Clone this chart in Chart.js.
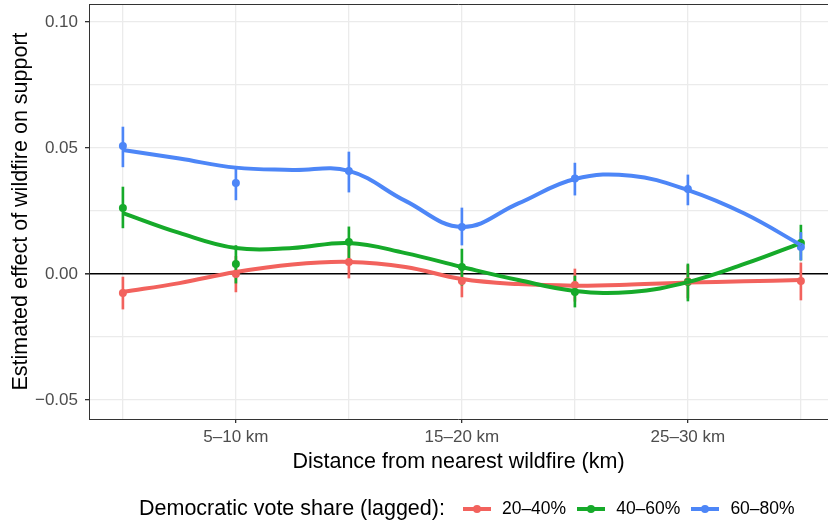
<!DOCTYPE html>
<html>
<head>
<meta charset="utf-8">
<script src="https://cdn.jsdelivr.net/npm/chart.js@4.4.1/dist/chart.umd.min.js"></script>
<style>
  html, body { margin: 0; padding: 0; background: #fff; }
  #wrap { position: relative; width: 828px; height: 520px; font-family: "Liberation Sans", Arial, sans-serif; }
  #legend { position: absolute; left: 139px; top: 496px; display: flex; align-items: center; white-space: nowrap; color: #000; }
  #legend .ttl { font-size: 21.5px; margin-right: 18px; }
  #legend .key { display: inline-block; position: relative; width: 28px; height: 24px; margin-right: 11px; }
  #legend .key .ln { position: absolute; left: 0; right: 0; top: 10px; height: 4px; }
  #legend .key .dt { position: absolute; left: 10px; top: 8px; width: 8px; height: 8px; border-radius: 50%; }
  #legend .lab { font-size: 17.5px; margin-right: 11px; }
</style>
</head>
<body>
<div id="wrap">
  <canvas id="wildfireChart"></canvas>
  <div id="legend"></div>
</div>
<script>
// distance bins (x positions 0..6), only every other one is labelled
const xPositions = [0, 1, 2, 3, 4, 5, 6];
const xTickLabels = ['', '5–10 km', '', '15–20 km', '', '25–30 km', ''];

const yGrid = [-0.05, -0.025, 0, 0.025, 0.05, 0.075, 0.1];
const yTickLabels = ['−0.05', '', '0.00', '', '0.05', '', '0.10'];

const seriesNames = ['20–40%', '40–60%', '60–80%'];

// point estimates and intervals
const est20 = [-0.0075, 0.0000, 0.0048, -0.0028, -0.0044, -0.0030, -0.0028];
const lo20  = [-0.0139, -0.0071, -0.0016, -0.0091, -0.0108, -0.0095, -0.0103];
const hi20  = [-0.0012, 0.0070, 0.0111, 0.0036, 0.0020, 0.0035, 0.0044];

const est40 = [0.0262, 0.0040, 0.0127, 0.0028, -0.0071, -0.0032, 0.0123];
const lo40  = [0.0183, -0.0036, 0.0063, -0.0044, -0.0131, -0.0107, 0.0055];
const hi40  = [0.0345, 0.0113, 0.0187, 0.0099, -0.0008, 0.0040, 0.0194];

const est60 = [0.0508, 0.0361, 0.0409, 0.0187, 0.0379, 0.0337, 0.0107];
const lo60  = [0.0425, 0.0294, 0.0325, 0.0115, 0.0313, 0.0274, 0.0056];
const hi60  = [0.0583, 0.0425, 0.0484, 0.0262, 0.0440, 0.0393, 0.0165];

// smoothed trend, read at every half bin
const smoothX  = [0, 0.5, 1, 1.5, 2, 2.5, 3, 3.5, 4, 4.5, 5, 5.5, 6];
const smooth20 = [-0.0071, -0.0036, 0.0008, 0.0038, 0.0048, 0.0028, -0.0020, -0.0040, -0.0046, -0.0042, -0.0034, -0.0029, -0.0024];
const smooth40 = [0.0242, 0.0163, 0.0103, 0.0103, 0.0123, 0.0083, 0.0028, -0.0024, -0.0067, -0.0071, -0.0032, 0.0040, 0.0123];
const smooth60 = [0.0492, 0.0458, 0.0422, 0.0413, 0.0409, 0.0290, 0.0187, 0.0280, 0.0377, 0.0390, 0.0333, 0.0240, 0.0115];

const colors = ['#F2625D', '#16AA2A', '#4D86F7'];

const groups = [
  { est: est20, lo: lo20, hi: hi20, smooth: smooth20 },
  { est: est40, lo: lo40, hi: hi40, smooth: smooth40 },
  { est: est60, lo: lo60, hi: hi60, smooth: smooth60 }
];

const datasets = [];
groups.forEach((g, k) => {
  datasets.push({
    type: 'bar',
    data: xPositions.map((x, i) => ({ x: x, y: [g.lo[i], g.hi[i]] })),
    backgroundColor: colors[k],
    barThickness: 2,
    grouped: false,
    order: 8 - k
  });
  datasets.push({
    type: 'line',
    data: xPositions.map((x, i) => ({ x: x, y: g.est[i] })),
    showLine: false,
    pointRadius: 4,
    pointBorderWidth: 0,
    pointBackgroundColor: colors[k],
    order: 5 - k
  });
  datasets.push({
    type: 'line',
    data: smoothX.map((x, i) => ({ x: x, y: g.smooth[i] })),
    borderColor: colors[k],
    borderWidth: 4,
    tension: 0.4,
    pointRadius: 0,
    fill: false,
    order: 2 - k
  });
});

// top edge of the panel border
const panelBorder = {
  id: 'panelBorder',
  afterDraw(chart) {
    const { ctx, chartArea: a } = chart;
    ctx.save();
    ctx.strokeStyle = '#333';
    ctx.lineWidth = 1;
    ctx.beginPath();
    ctx.moveTo(a.left, a.top + 0.5);
    ctx.lineTo(a.right, a.top + 0.5);
    ctx.stroke();
    ctx.restore();
  }
};

Chart.defaults.font.family = '"Liberation Sans", Arial, sans-serif';

new Chart(document.getElementById('wildfireChart'), {
  type: 'line',
  data: { datasets: datasets },
  plugins: [panelBorder],
  options: {
    responsive: true,
    maintainAspectRatio: false,
    animation: false,
    layout: { autoPadding: false, padding: { left: 0, top: 4, right: 0, bottom: 0 } },
    plugins: { legend: { display: false }, tooltip: { enabled: false } },
    scales: {
      x: {
        type: 'linear',
        offset: false,
        min: -0.3,
        max: 6.24,
        afterBuildTicks: s => { s.ticks = xPositions.map(v => ({ value: v })); },
        afterFit: s => { s.height = 101; s.paddingLeft = 0; s.paddingRight = 0; },
        ticks: {
          callback: (v, i) => xTickLabels[i],
          color: '#4d4d4d',
          font: { size: 17 },
          padding: 4,
          maxRotation: 0,
          autoSkip: false
        },
        grid: {
          offset: false,
          color: '#ebebeb',
          lineWidth: 1.3,
          tickLength: 4,
          tickColor: ctx => xTickLabels[ctx.index] ? '#333' : 'rgba(0,0,0,0)'
        },
        border: { color: '#333', width: 1 },
        title: {
          display: true,
          text: 'Distance from nearest wildfire (km)',
          color: '#000',
          font: { size: 21.5 },
          padding: { top: 0, bottom: 45 }
        }
      },
      y: {
        min: -0.0575,
        max: 0.1071,
        afterBuildTicks: s => { s.ticks = yGrid.map(v => ({ value: v })); },
        afterFit: s => { s.width = 89; s.paddingTop = 0; s.paddingBottom = 0; },
        ticks: {
          callback: (v, i) => yTickLabels[i],
          color: '#4d4d4d',
          font: { size: 17 },
          padding: 7,
          autoSkip: false
        },
        grid: {
          color: ctx => ctx.tick && ctx.tick.value === 0 ? '#000' : '#ebebeb',
          lineWidth: ctx => ctx.tick && ctx.tick.value === 0 ? 1.6 : 1.3,
          tickLength: 4,
          tickColor: ctx => yTickLabels[ctx.index] ? '#333' : 'rgba(0,0,0,0)'
        },
        border: { color: '#333', width: 1 },
        title: {
          display: true,
          text: 'Estimated effect of wildfire on support',
          color: '#000',
          font: { size: 21.5 },
          padding: { top: 8, bottom: 0 }
        }
      }
    }
  }
});

// legend below the plot
const legend = document.getElementById('legend');
let html = '<span class="ttl">Democratic vote share (lagged):</span>';
seriesNames.forEach((name, k) => {
  html += '<span class="key"><span class="ln" style="background:' + colors[k] + '"></span>' +
          '<span class="dt" style="background:' + colors[k] + '"></span></span>' +
          '<span class="lab">' + name + '</span>';
});
legend.innerHTML = html;
</script>
</body>
</html>
